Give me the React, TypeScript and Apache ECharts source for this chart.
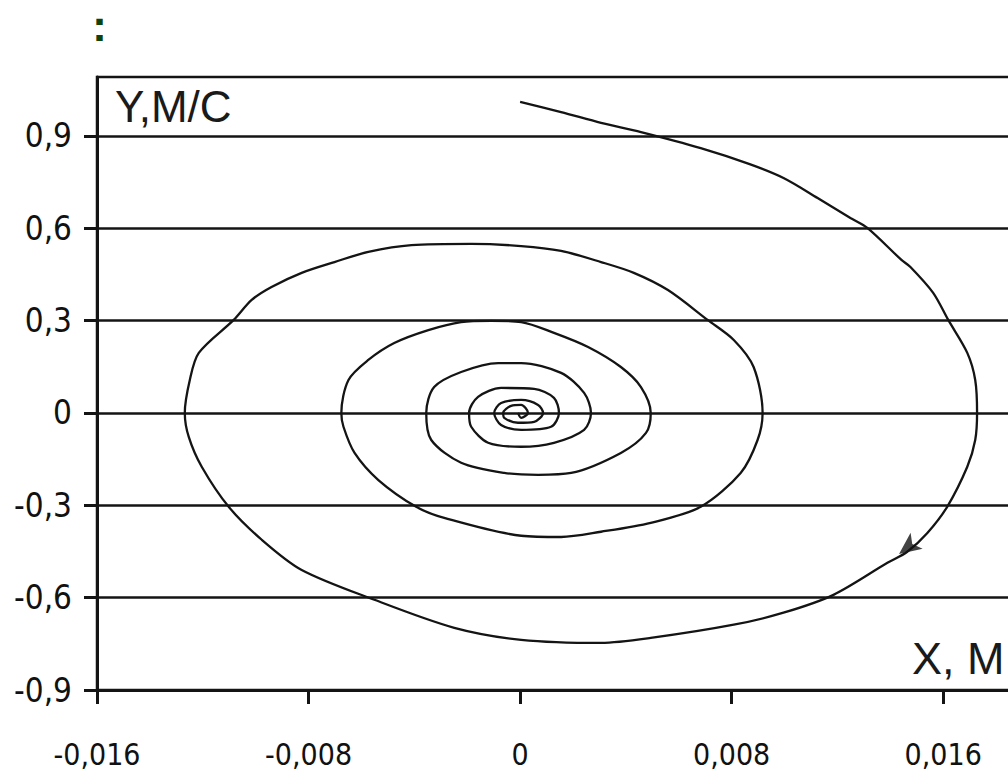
import React, { useEffect, useRef } from "react";
import * as echarts from "echarts";

// Phase trajectory: displacement X (m) and velocity Y (m/s)
const xs: number[] = [
  -0.00000, 0.00155, 0.00306, 0.00457, 0.00683, 0.00868, 0.00996, 0.01125, 0.01249, 0.01313,
  0.01442, 0.01476, 0.01562, 0.01619, 0.01691, 0.01721, 0.01728, 0.01721, 0.01691, 0.01615,
  0.01540, 0.01464, 0.01389, 0.01185, 0.00996, 0.00808, 0.00494, 0.00306, 0.00004, -0.00249,
  -0.00551, -0.00826, -0.00977, -0.01102, -0.01204, -0.01253, -0.01268, -0.01249, -0.01215, -0.01083,
  -0.01015, -0.00940, -0.00826, -0.00702, -0.00574, -0.00411, -0.00185, 0.00004, 0.00155, 0.00306,
  0.00430, 0.00559, 0.00709, 0.00808, 0.00883, 0.00917, 0.00898, 0.00834, 0.00683, 0.00494,
  0.00306, 0.00155, 0.00004, -0.00287, -0.00393, -0.00536, -0.00626, -0.00668, -0.00676, -0.00649,
  -0.00574, -0.00476, -0.00347, -0.00223, -0.00109, 0.00004, 0.00128, 0.00257, 0.00381, 0.00457,
  0.00494, 0.00476, 0.00381, 0.00193, 0.00068, -0.00060, -0.00223, -0.00336, -0.00355, -0.00325,
  -0.00223, -0.00083, 0.00004, 0.00155, 0.00242, 0.00268, 0.00242, 0.00128, 0.00004, -0.00121,
  -0.00185, -0.00193, -0.00159, -0.00072, 0.00053, 0.00128, 0.00147, 0.00117, 0.00004, -0.00072,
  -0.00098, -0.00072, 0.00004, 0.00068, 0.00087, 0.00053, -0.00008, -0.00060, -0.00064, -0.00034,
  0.00004, 0.00030, 0.00004, -0.00008,
];
const ys: number[] = [
  1.010, 0.977, 0.942, 0.912, 0.860, 0.808, 0.763, 0.698, 0.633, 0.601,
  0.497, 0.474, 0.390, 0.302, 0.195, 0.107, 0.000, -0.088, -0.175, -0.305,
  -0.390, -0.451, -0.487, -0.591, -0.649, -0.688, -0.731, -0.747, -0.737, -0.698,
  -0.607, -0.510, -0.412, -0.305, -0.175, -0.078, 0.000, 0.107, 0.195, 0.302,
  0.367, 0.409, 0.455, 0.490, 0.523, 0.545, 0.549, 0.542, 0.526, 0.490,
  0.455, 0.399, 0.302, 0.237, 0.149, 0.000, -0.088, -0.195, -0.305, -0.357,
  -0.386, -0.403, -0.399, -0.341, -0.305, -0.218, -0.130, -0.045, 0.000, 0.107,
  0.172, 0.227, 0.269, 0.295, 0.299, 0.295, 0.260, 0.214, 0.149, 0.084,
  0.000, -0.065, -0.130, -0.195, -0.201, -0.195, -0.162, -0.088, 0.000, 0.084,
  0.133, 0.162, 0.162, 0.130, 0.065, 0.000, -0.055, -0.097, -0.110, -0.097,
  -0.045, 0.000, 0.052, 0.081, 0.078, 0.049, 0.000, -0.045, -0.055, -0.039,
  0.000, 0.032, 0.042, 0.026, 0.000, -0.029, -0.032, -0.016, 0.000, 0.023,
  0.026, 0.000, -0.016, 0.000,
];

// direction arrow on the outer branch (tip position)
const arrowX = [0.01433];
const arrowY = [-0.458];

const xTicks = [-0.016, -0.008, 0, 0.008, 0.016];
const yTicks = [-0.9, -0.6, -0.3, 0, 0.3, 0.6, 0.9];

const yTitle = "Y,M/C";
const xTitle = "X, M";
const heading = ":";

const fmt = (v: number) => {
  if (Math.abs(v) < 1e-9) return "0";
  return String(+v.toFixed(3)).replace(".", ",");
};

export default function App() {
  const ref = useRef<HTMLDivElement>(null);
  useEffect(() => {
    if (!ref.current) return;
    const chart = echarts.init(ref.current, undefined, { renderer: "svg" });
    const labelFont = "'DejaVu Sans Condensed', 'Liberation Sans Narrow', sans-serif";
    const ink = "#141414";
    chart.setOption({
      animation: false,
      backgroundColor: "#ffffff",
      grid: {
        left: 97,
        top: 77,
        width: 952,
        height: 613,
        show: true,
        borderColor: ink,
        borderWidth: 2.5,
        backgroundColor: "transparent",
      },
      xAxis: {
        type: "value",
        min: -0.016,
        max: 0.02,
        interval: 0.008,
        axisLine: { show: true, onZero: false, lineStyle: { color: ink, width: 3 } },
        axisTick: {
          show: true,
          length: 14,
          lineStyle: { color: ink, width: 3 },
          customValues: xTicks,
        },
        axisLabel: {
          margin: 64,
          fontSize: 30,
          lineHeight: 26,
          verticalAlign: "middle",
          color: "#111",
          fontFamily: labelFont,
          formatter: fmt,
          customValues: xTicks,
        },
        splitLine: { show: false },
      },
      yAxis: {
        type: "value",
        min: -0.9,
        max: 1.091,
        interval: 0.3,
        axisLine: { show: true, onZero: false, lineStyle: { color: ink, width: 3 } },
        axisTick: {
          show: true,
          length: 13,
          lineStyle: { color: ink, width: 3 },
          customValues: yTicks,
        },
        axisLabel: {
          margin: 25,
          fontSize: 33,
          color: "#111",
          fontFamily: labelFont,
          formatter: fmt,
          customValues: yTicks,
        },
        splitLine: { show: true, lineStyle: { color: ink, width: 2.5 } },
      },
      series: [
        {
          type: "line",
          data: xs.map((x, i) => [x, ys[i]]),
          symbol: "none",
          smooth: 0.3,
          lineStyle: { color: ink, width: 2.3 },
          z: 3,
        },
        {
          type: "scatter",
          data: arrowX.map((x, i) => [x, arrowY[i]]),
          symbol: "arrow",
          symbolSize: [15, 22],
          symbolRotate: 127,
          itemStyle: { color: ink },
          z: 4,
        },
      ],
      graphic: [
        {
          type: "text",
          left: 115,
          top: 84,
          style: { text: yTitle, fontSize: 44, fill: "#1a1a1a", fontFamily: "'Liberation Sans', Arial, sans-serif" },
          z: 10,
        },
        {
          type: "text",
          left: 912,
          top: 636,
          style: { text: xTitle, fontSize: 45, fill: "#1a1a1a", fontFamily: "'Liberation Sans', Arial, sans-serif" },
          z: 10,
        },
        {
          type: "text",
          left: 92,
          top: 3,
          style: { text: heading, fontSize: 45, lineHeight: 40, fontWeight: "bold", fill: "#0b450b", fontFamily: "'Liberation Sans', Arial, sans-serif" },
          z: 10,
        },
      ],
    });
    return () => chart.dispose();
  }, []);
  return (
    <div style={{ position: "absolute", left: 0, top: 0, width: 1008, height: 774, overflow: "hidden", background: "#fff" }}>
      <div ref={ref} style={{ width: 1100, height: 774 }} />
    </div>
  );
}
